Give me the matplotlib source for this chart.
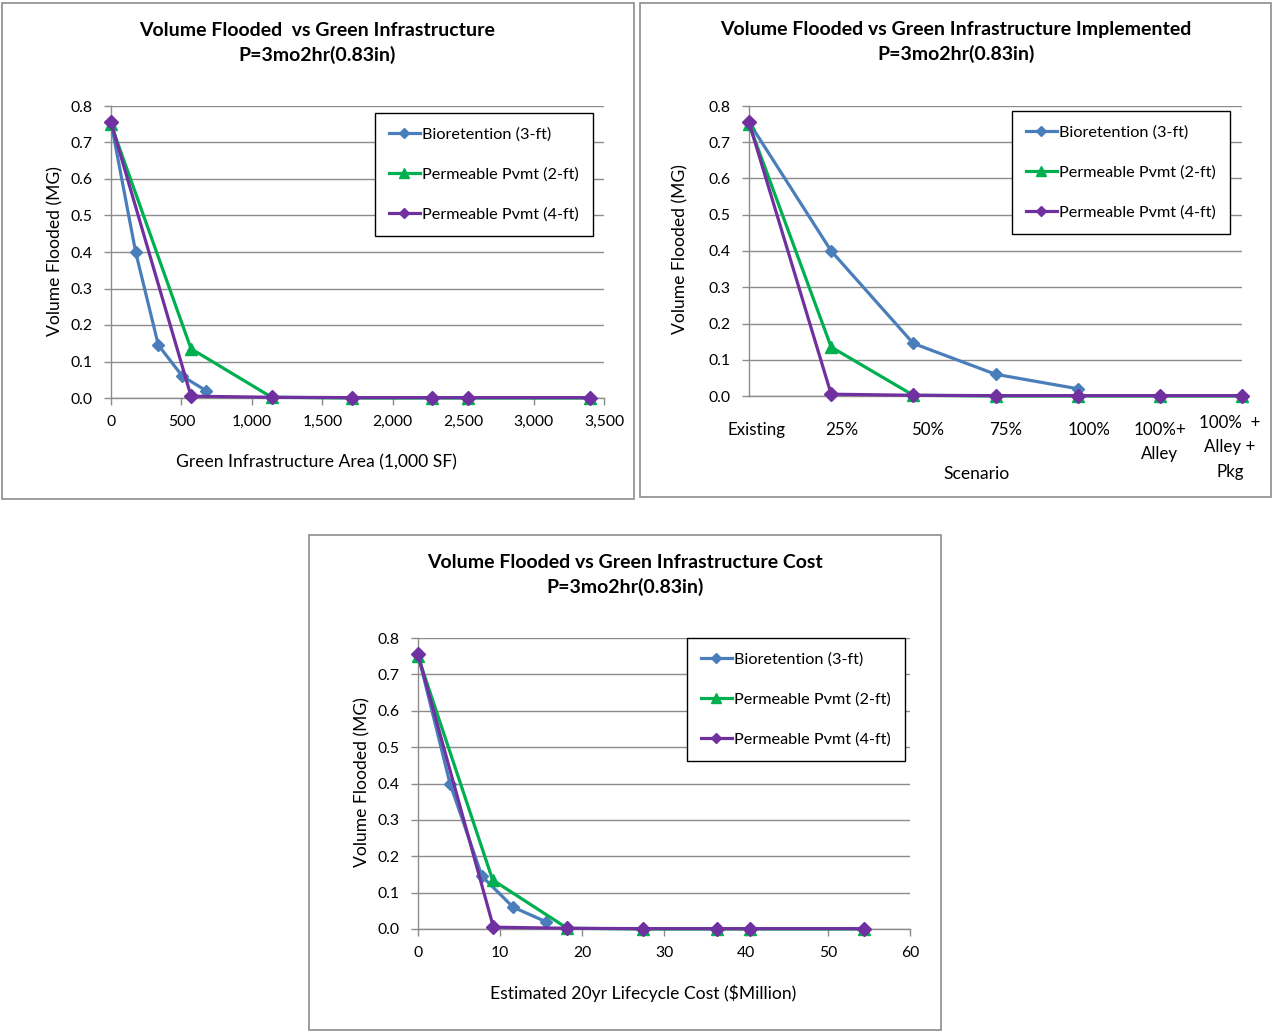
import matplotlib
matplotlib.use("Agg")
import matplotlib.pyplot as plt
from matplotlib.patches import Rectangle
from matplotlib.ticker import FuncFormatter, MultipleLocator
import matplotlib.transforms as mtransforms

plt.rcParams['font.family'] = ['Lato', 'DejaVu Sans']

# ---- data ----
series_names = ["Bioretention (3-ft)", "Permeable Pvmt (2-ft)", "Permeable Pvmt (4-ft)"]

# Green infrastructure area (1,000 SF)
bio_area = [0, 175, 336, 506, 675]
pp2_area = [0, 568, 1141, 1713, 2281, 2532, 3401]
pp4_area = [0, 568, 1141, 1713, 2281, 2532, 3401]

# Volume flooded (MG)
bio_vol = [0.755, 0.40, 0.145, 0.060, 0.020]
pp2_vol = [0.750, 0.135, 0.002, 0.0, 0.0, 0.0, 0.0]
pp4_vol = [0.755, 0.005, 0.002, 0.001, 0.001, 0.001, 0.001]

# Scenarios
scenarios = ["Existing", "25%", "50%", "75%", "100%", "100%+\nAlley", "100%  +\nAlley +\nPkg"]

# Estimated 20yr lifecycle cost ($Million)
bio_cost = [0, 3.9, 7.8, 11.6, 15.6]
pp2_cost = [0, 9.1, 18.2, 27.4, 36.5, 40.5, 54.4]
pp4_cost = [0, 9.2, 18.2, 27.4, 36.5, 40.5, 54.4]

colors = ["#4A7EBB", "#00B050", "#7030A0"]
markers = ["D", "^", "D"]
msizes = [6.5, 9, 7]

LABEL_FS = 12.6
TITLE_FS = 14

W, H = 1272, 1032
fig = plt.figure(figsize=(W / 100, H / 100), dpi=100)


def fx(px):
    return px / W


def fy(py):
    return 1 - py / H


def frame(x0, y0, x1, y1):
    fig.patches.append(Rectangle((fx(x0), fy(y1)), fx(x1 - x0), (y1 - y0) / H,
                                 transform=fig.transFigure, fill=False,
                                 edgecolor="#8c8c8c", linewidth=1.2))


def make_axes(x0, y0, x1, y1):
    ax = fig.add_axes([fx(x0), fy(y1), fx(x1 - x0), (y1 - y0) / H])
    ax.set_ylim(0, 0.8)
    ax.yaxis.set_major_locator(MultipleLocator(0.1))
    ax.yaxis.set_major_formatter(FuncFormatter(lambda v, p: f"{v:.1f}"))
    ax.grid(axis="y", color="#8c8c8c", linewidth=1.0)
    ax.set_axisbelow(True)
    for s in ["top", "right"]:
        ax.spines[s].set_visible(False)
    for s in ["left", "bottom"]:
        ax.spines[s].set_color("#8c8c8c")
        ax.spines[s].set_linewidth(1.0)
    ax.tick_params(axis="both", colors="#8c8c8c", labelcolor="black",
                   labelsize=11.3, length=5, width=1.0, direction="out")
    ax.tick_params(axis="y", pad=8)
    return ax


def plot_series(ax, xs_list, ys_list):
    handles = []
    for xs, ys, c, m, ms, name in zip(xs_list, ys_list, colors, markers, msizes, series_names):
        h, = ax.plot(xs, ys, color=c, marker=m, markersize=ms, linewidth=2.3,
                     label=name, clip_on=False, zorder=3)
        handles.append(h)
    return handles


def add_legend(ax, anchor_px):
    leg = ax.legend(loc="upper right", bbox_to_anchor=(fx(anchor_px[0]), fy(anchor_px[1])),
                    bbox_transform=fig.transFigure, fontsize=11.7, frameon=True,
                    fancybox=False, edgecolor="black", framealpha=1,
                    labelspacing=1.6, handlelength=1.9, handletextpad=0.15,
                    borderpad=0.86, borderaxespad=0, markerscale=0.75)
    leg.get_frame().set_linewidth(1.0)
    return leg


def titles(cx, y1, line1):
    fig.text(fx(cx), fy(y1), line1, ha="center", va="center",
             fontsize=TITLE_FS, fontweight="bold")
    fig.text(fx(cx), fy(y1 + 25), "P=3mo2hr(0.83in)", ha="center", va="center",
             fontsize=TITLE_FS, fontweight="bold")


# ---- panel 1: vs area ----
frame(2, 3, 634, 499)
ax1 = make_axes(111, 106, 604, 398)
plot_series(ax1, [bio_area, pp2_area, pp4_area], [bio_vol, pp2_vol, pp4_vol])
ax1.set_xlim(0, 3500)
ax1.xaxis.set_major_locator(MultipleLocator(500))
ax1.xaxis.set_major_formatter(FuncFormatter(lambda v, p: f"{int(v):,}"))
ax1.tick_params(axis="x", pad=7)
add_legend(ax1, (593, 113))
titles(317, 30, "Volume Flooded  vs Green Infrastructure")
fig.text(fx(55), fy(251), "Volume Flooded (MG)", rotation=90, ha="center", va="center", fontsize=LABEL_FS)
fig.text(fx(316), fy(462), "Green Infrastructure Area (1,000 SF)", ha="center", va="center", fontsize=LABEL_FS)

# ---- panel 2: vs scenario ----
frame(640, 3, 1271, 497)
ax2 = make_axes(749, 106, 1242, 396)
idx_bio = list(range(len(bio_vol)))
idx_all = list(range(len(scenarios)))
plot_series(ax2, [idx_bio, idx_all, idx_all], [bio_vol, pp2_vol, pp4_vol])
ax2.set_xlim(0, len(scenarios) - 1)
ax2.set_xticks(idx_all)
ax2.set_xticklabels(scenarios, linespacing=1.62, va="top", fontsize=12.2)
ax2.tick_params(axis="x", length=0, pad=19)
# nudge wrapped category labels (pixel offsets, right / up)
label_nudges = [(8, 0), (11, 0), (14, 0), (10, 0), (11, 0), (0, 0), (-12, 7)]
for lab, (dx, dy) in zip(ax2.get_xticklabels(), label_nudges):
    lab.set_transform(lab.get_transform()
                      + mtransforms.ScaledTranslation(dx / 100, dy / 100, fig.dpi_scale_trans))
add_legend(ax2, (1230, 111))
titles(956, 29, "Volume Flooded vs Green Infrastructure Implemented")
fig.text(fx(680), fy(249), "Volume Flooded (MG)", rotation=90, ha="center", va="center", fontsize=LABEL_FS)
fig.text(fx(977), fy(474), "Scenario", ha="center", va="center", fontsize=LABEL_FS)

# ---- panel 3: vs cost ----
frame(309, 535, 941, 1030)
ax3 = make_axes(418, 638, 910, 929)
plot_series(ax3, [bio_cost, pp2_cost, pp4_cost], [bio_vol, pp2_vol, pp4_vol])
ax3.set_xlim(0, 60)
ax3.xaxis.set_major_locator(MultipleLocator(10))
ax3.tick_params(axis="x", pad=7)
add_legend(ax3, (905, 638))
titles(625, 562, "Volume Flooded vs Green Infrastructure Cost")
fig.text(fx(362), fy(782), "Volume Flooded (MG)", rotation=90, ha="center", va="center", fontsize=LABEL_FS)
fig.text(fx(643), fy(993), "Estimated 20yr Lifecycle Cost ($Million)", ha="center", va="center", fontsize=LABEL_FS)

fig.savefig("out.png", dpi=100, facecolor="white")
